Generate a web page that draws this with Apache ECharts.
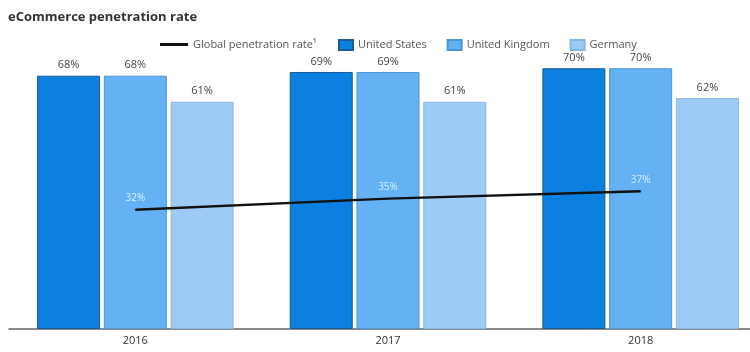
<!DOCTYPE html>
<html>
<head>
    <meta charset="UTF-8">
    <title>eCommerce penetration rate</title>
    <script type="text/javascript" src="https://cdn.jsdelivr.net/npm/echarts@6/dist/echarts.min.js"></script>
    <style type="text/css">
        body { margin: 0; background: #fff; }
        #main { width: 750px; height: 352px; }
    </style>
</head>
<body>
<div id="main"></div>
<script>
// 数据
var years = ['2016', '2017', '2018'];
var usRate = [68, 69, 70];
var ukRate = [68, 69, 70];
var deRate = [61, 61, 62];
var globalRate = [32, 35, 37];

var FONT = '"Open Sans", "Noto Sans", sans-serif';

function barSeries(name, data, color, border) {
    return {
        name: name,
        type: 'bar',
        data: data,
        barWidth: 63,
        barGap: '6%',
        itemStyle: { color: color, borderColor: border, borderWidth: 1 },
        label: {
            show: true,
            position: 'top',
            distance: 5,
            formatter: '{c}%',
            color: '#444',
            fontSize: 11,
            fontFamily: FONT
        }
    };
}

var myChart = echarts.init(document.getElementById('main'));
myChart.setOption({
    backgroundColor: '#fff',
    animation: false,
    title: {
        text: 'eCommerce penetration rate',
        left: 3,
        top: 6,
        textStyle: { fontSize: 13, fontWeight: 'bold', color: '#333', fontFamily: FONT }
    },
    legend: [{
        data: ['Global penetration rate¹'],
        left: 155,
        top: 34,
        itemWidth: 28,
        itemHeight: 3,
        icon: 'rect',
        itemGap: 6,
        textStyle: { fontSize: 11, color: '#555', fontFamily: FONT }
    }, {
        data: ['United States', 'United Kingdom', 'Germany'],
        left: 333,
        top: 34,
        itemWidth: 14,
        itemHeight: 10,
        icon: 'rect',
        itemGap: 20,
        textStyle: { fontSize: 11, color: '#555', fontFamily: FONT }
    }],
    // 图片右侧被裁掉一部分，所以网格比画布宽
    grid: { left: 9, width: 758, top: 31, bottom: 23, outerBoundsMode: 'none', containLabel: false },
    xAxis: {
        type: 'category',
        data: years,
        axisTick: { show: false },
        axisLine: { lineStyle: { color: '#666', width: 1.5 } },
        axisLabel: { color: '#333', fontSize: 11, margin: 6, fontFamily: FONT }
    },
    yAxis: {
        type: 'value',
        min: 0,
        max: 80,
        show: false
    },
    series: [
        barSeries('United States', usRate, '#0b80e0', '#1a5a96'),
        barSeries('United Kingdom', ukRate, '#64b2f4', '#4b95d0'),
        barSeries('Germany', deRate, '#9ecbf6', '#86b6e2'),
        {
            name: 'Global penetration rate¹',
            type: 'line',
            data: globalRate,
            symbol: 'circle',
            symbolSize: 1,
            showSymbol: true,
            z: 5,
            lineStyle: { color: '#111', width: 2.5 },
            itemStyle: { color: '#111' },
            label: {
                show: true,
                position: 'top',
                distance: 6,
                formatter: '{c}%',
                color: '#d6ecfc',
                fontSize: 10,
                fontFamily: FONT
            }
        }
    ]
});
</script>
</body>
</html>
